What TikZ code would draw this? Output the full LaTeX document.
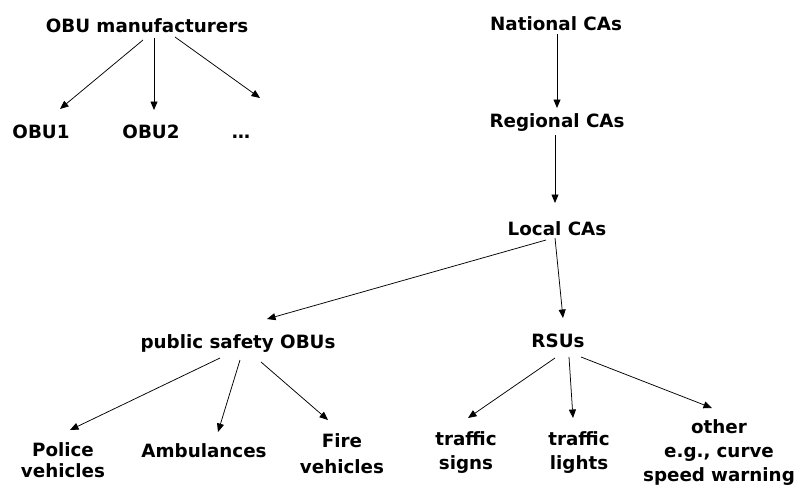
\documentclass[tikz,border=0pt]{standalone}
\usepackage{fontspec}
\setmainfont{DejaVu Sans}
\usetikzlibrary{arrows.meta,calc}
\tikzset{
  lbl/.style={anchor=base,inner sep=0pt,font=\bfseries\fontsize{18.3}{24}\selectfont},
  mlbl/.style={lbl,align=center,text width=6cm},
  arr/.style={draw=black,line width=0.75pt,-{Triangle[length=8.5pt,width=7pt]}}
}
\begin{document}
\begin{tikzpicture}[x=1pt,y=-1pt]
\useasboundingbox (0,0) rectangle (799,488);
% top-left
\node[lbl] (man) at (147,32) {OBU manufacturers};
\node[lbl] (obu1) at (41,138) {OBU1};
\node[lbl] (obu2) at (151,138) {OBU2};
\node[lbl] (dots) at (241,138) {…};
% top-right chain
\node[lbl] (nat) at (556,30) {National CAs};
\node[lbl] (reg) at (557,127) {Regional CAs};
\node[lbl] (loc) at (557,235) {Local CAs};
\node[lbl] (pub) at (238,348) {public safety OBUs};
\node[lbl] (rsu) at (558,347) {RSUs};
% bottom
\node[mlbl] (pol) at (63,456) {Police\\[-3pt]vehicles};
\node[lbl] (amb) at (204,457) {Ambulances};
\node[mlbl] (fire) at (342,447) {Fire\\[2pt]vehicles};
\node[mlbl] (sig) at (466,445) {traffic\\signs};
\node[mlbl] (lig) at (579,445) {traffic\\lights};
\node[mlbl] (oth) at (719,433) {other\\e.g., curve\\speed warning};
% arrows
\draw[arr] ($(man.base)+(-4,8)$) -- ($(obu1.base)+(19,-29)$);
\draw[arr] ($(man.base)+(7,6)$) -- ($(obu2.base)+(3,-28)$);
\draw[arr] ($(man.base)+(28,5)$) -- ($(dots.base)+(19,-40)$);
\draw[arr] ($(nat.base)+(1,4)$) -- ($(reg.base)+(0,-19)$);
\draw[arr] ($(reg.base)+(-2,8)$) -- ($(loc.base)+(-2,-32)$);
\draw[arr] ($(loc.base)+(-11,5)$) -- ($(pub.base)+(29,-29)$);
\draw[arr] ($(loc.base)+(-2,3)$) -- ($(rsu.base)+(5,-29)$);
\draw[arr] ($(pub.base)+(-18,10)$) -- ($(pol.base)+(7,-26)$);
\draw[arr] ($(pub.base)+(2,12)$) -- ($(amb.base)+(14,-25)$);
\draw[arr] ($(pub.base)+(23,14)$) -- ($(fire.base)+(-14,-27)$);
\draw[arr] ($(rsu.base)+(-3,11)$) -- ($(sig.base)+(2,-27)$);
\draw[arr] ($(rsu.base)+(11,10)$) -- ($(lig.base)+(-6,-27)$);
\draw[arr] ($(rsu.base)+(23,10)$) -- ($(oth.base)+(-7,-25)$);
\end{tikzpicture}
\end{document}
